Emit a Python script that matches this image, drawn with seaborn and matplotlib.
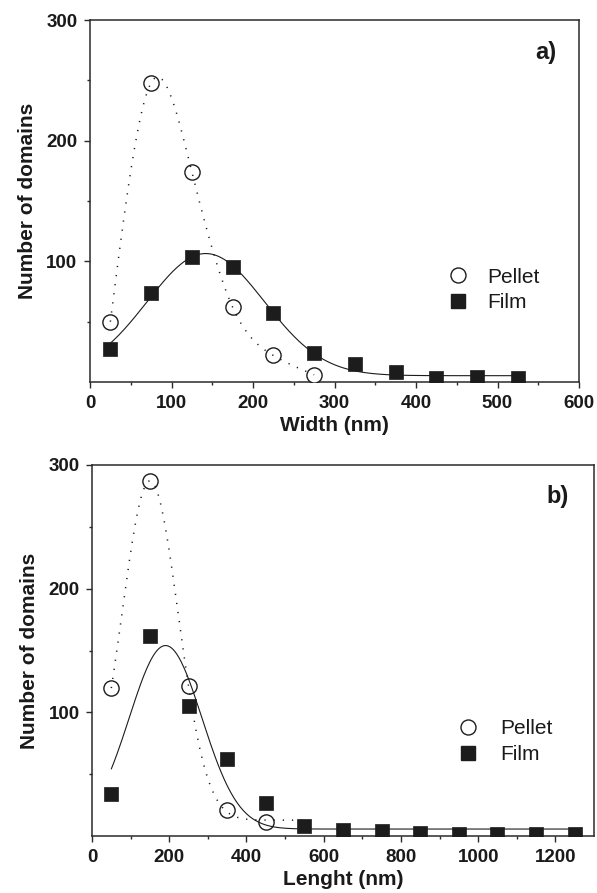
import numpy as np
import pandas as pd
import matplotlib
matplotlib.use("Agg")
import matplotlib.pyplot as plt
from matplotlib.lines import Line2D
import seaborn as sns

# ---------------- data ----------------
width_pellet_x = [25, 75, 125, 175, 225, 275]
width_pellet_y = [50, 248, 174, 62, 22, 6]
width_film_x = [25, 75, 125, 175, 225, 275, 325, 375, 425, 475, 525]
width_film_y = [27, 74, 104, 95, 57, 24, 15, 8, 3, 4.5, 3]

length_pellet_x = [50, 150, 250, 350, 450]
length_pellet_y = [120, 287, 121, 21, 11]
length_film_x = [50, 150, 250, 350, 450, 550, 650, 750, 850, 950, 1050, 1150, 1250]
length_film_y = [34, 162, 105, 62, 27, 8, 4.7, 4.2, 2.8, 2, 2, 1.3, 2]

x_ticks_width = [0, 100, 200, 300, 400, 500, 600]
x_ticks_length = [0, 200, 400, 600, 800, 1000, 1200]
y_ticks = [100, 200, 300]
labels = ["Pellet", "Film"]

# curve ranges
width_film_range = (25, 525)
length_pellet_range = (50, 550)
length_film_range = (50, 1250)


def gauss_fit(x, y):
    """Least-squares Gaussian fit y = y0 + A*exp(-2((x-xc)/w)^2)."""
    x = np.asarray(x, float)
    y = np.asarray(y, float)
    span = x.max() - x.min()
    best = None
    xcs = np.linspace(x.min(), x.max(), 300)
    ws = np.linspace(span * 0.05, span * 1.5, 300)
    for xc in xcs:
        for w in ws:
            g = np.exp(-2 * ((x - xc) / w) ** 2)
            M = np.column_stack([np.ones_like(x), g])
            coef, *_ = np.linalg.lstsq(M, y, rcond=None)
            r = np.sum((M @ coef - y) ** 2)
            if best is None or r < best[0]:
                best = (r, xc, w, coef[0], coef[1])
    return best[1:]


def fit_curve(x, y, rng, n=300):
    xc, w, y0, A = gauss_fit(x, y)
    xs = np.linspace(rng[0], rng[1], n)
    return pd.DataFrame({"x": xs, "y": y0 + A * np.exp(-2 * ((xs - xc) / w) ** 2)})


def spline_curve(x, y, n=300):
    """Natural cubic spline line connecting the data points (Origin 'spline' connect)."""
    x = np.asarray(x, float)
    y = np.asarray(y, float)
    k = len(x)
    h = np.diff(x)
    M = np.zeros((k, k))
    b = np.zeros(k)
    M[0, 0] = M[-1, -1] = 1
    for i in range(1, k - 1):
        M[i, i - 1] = h[i - 1]
        M[i, i] = 2 * (h[i - 1] + h[i])
        M[i, i + 1] = h[i]
        b[i] = 6 * ((y[i + 1] - y[i]) / h[i] - (y[i] - y[i - 1]) / h[i - 1])
    m = np.linalg.solve(M, b)
    xs = np.linspace(x[0], x[-1], n)
    idx = np.clip(np.searchsorted(x, xs) - 1, 0, k - 2)
    x0, x1 = x[idx], x[idx + 1]
    hh = x1 - x0
    t0, t1 = x1 - xs, xs - x0
    ys = (m[idx] * t0 ** 3 + m[idx + 1] * t1 ** 3) / (6 * hh) \
        + (y[idx] / hh - m[idx] * hh / 6) * t0 + (y[idx + 1] / hh - m[idx + 1] * hh / 6) * t1
    return pd.DataFrame({"x": xs, "y": ys})


sns.set_theme(style="ticks")
plt.rcParams["font.family"] = ["Liberation Sans", "DejaVu Sans"]

W, H = 597, 893
fig = plt.figure(figsize=(W / 100, H / 100), dpi=100)
ax1 = fig.add_axes([90 / W, 1 - 382 / H, 489 / W, 362 / H])
ax2 = fig.add_axes([92 / W, 1 - 836 / H, 502 / W, 371 / H])

spine_c = "#2a2a2a"
mk_c = "#1c1c1c"


def panel(ax, px, py, fx, fy, dp, frng, xlim, xticks, xlabel, tag, tagpos, legx, legpad):
    # markers
    sns.scatterplot(x=fx, y=fy, ax=ax, marker="s", s=95, color=mk_c,
                    edgecolor=mk_c, linewidth=0.5, zorder=3)
    sns.scatterplot(x=px, y=py, ax=ax, marker="o", s=120, facecolor="white",
                    edgecolor=mk_c, linewidth=1.0, zorder=3)
    # curves
    df = fit_curve(fx, fy, frng)
    sns.lineplot(data=df, x="x", y="y", ax=ax, color=mk_c, linewidth=0.8,
                 zorder=4, estimator=None, sort=False)
    sns.lineplot(data=dp, x="x", y="y", ax=ax, color=mk_c, linewidth=1.1,
                 linestyle=(0, (0.8, 5.2)), zorder=4, estimator=None, sort=False)

    ax.set_xlim(*xlim)
    ax.set_ylim(0, 300)
    ax.set_xticks(xticks)
    ax.set_xticks([(a + b) / 2 for a, b in zip(xticks[:-1], xticks[1:])], minor=True)
    ax.set_yticks(y_ticks)
    ax.set_yticks([50, 150, 250], minor=True)
    ax.tick_params(which="major", direction="out", length=4.5, width=1.0,
                   color=spine_c, labelsize=13.5, pad=4.5)
    ax.tick_params(which="minor", direction="out", length=2.3, width=1.0, color=spine_c)
    for lab in ax.get_xticklabels() + ax.get_yticklabels():
        lab.set_fontweight("bold")
        lab.set_color("#1a1a1a")
    for sp in ax.spines.values():
        sp.set_visible(True)
        sp.set_color(spine_c)
        sp.set_linewidth(1.1)
    ax.set_xlabel(xlabel, fontsize=15, fontweight="bold", color="#1a1a1a", labelpad=3)
    ax.set_ylabel("Number of domains", fontsize=15, fontweight="bold", color="#1a1a1a", labelpad=7)
    ax.text(tagpos[0], tagpos[1], tag, transform=ax.transAxes, fontsize=17,
            fontweight="bold", ha="center", va="center", color="#1a1a1a")

    handles = [
        Line2D([], [], linestyle="none", marker="o", markersize=10.8,
               markerfacecolor="white", markeredgecolor=mk_c, markeredgewidth=1.0),
        Line2D([], [], linestyle="none", marker="s", markersize=9.7,
               markerfacecolor=mk_c, markeredgecolor=mk_c),
    ]
    leg = ax.legend(handles, labels, loc="center left", bbox_to_anchor=(legx, 0.254),
                    frameon=False, fontsize=15, handlelength=1.0, borderpad=0,
                    borderaxespad=0, handletextpad=legpad, labelspacing=0.32)
    for t in leg.get_texts():
        t.set_color("#1a1a1a")


panel(ax1, width_pellet_x, width_pellet_y, width_film_x, width_film_y,
      spline_curve(width_pellet_x, width_pellet_y), width_film_range, (0, 600),
      x_ticks_width, "Width (nm)", "a)", (0.932, 0.91), 0.731, 0.9)
panel(ax2, length_pellet_x, length_pellet_y, length_film_x, length_film_y,
      fit_curve(length_pellet_x, length_pellet_y, length_pellet_range),
      length_film_range, (0, 1300), x_ticks_length,
      "Lenght (nm)", "b)", (0.927, 0.915), 0.728, 1.04)

fig.savefig("out.png", dpi=100)
